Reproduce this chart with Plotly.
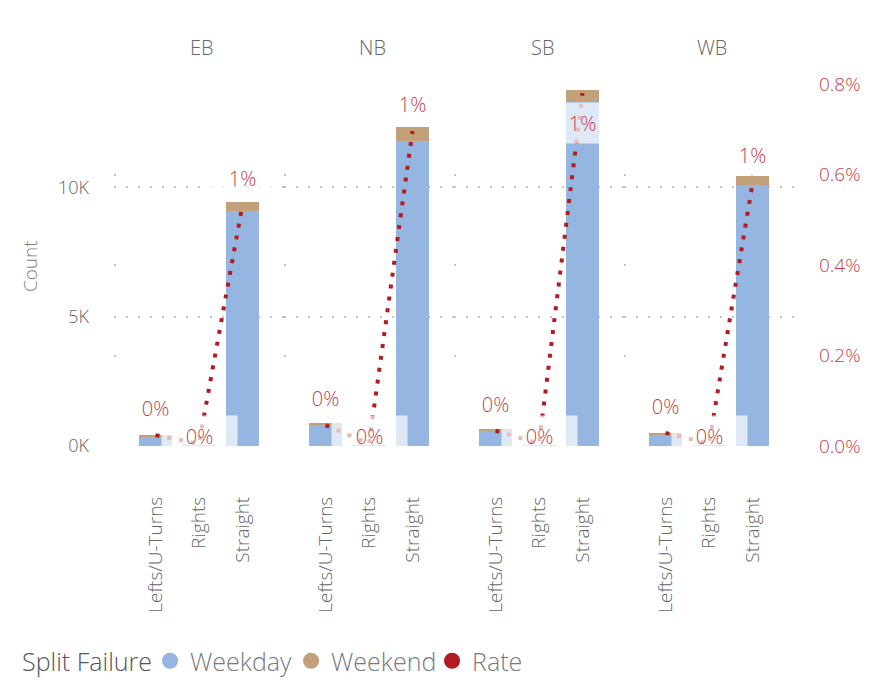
import plotly.graph_objects as go
from plotly.subplots import make_subplots

# ---------------- data ----------------
directions = ["EB", "NB", "SB", "WB"]
movements = ["Lefts/U-Turns", "Rights", "Straight"]

weekday_EB = [386, 25, 9070]
weekday_NB = [820, 20, 11780]
weekday_SB = [580, 20, 13300]
weekday_WB = [460, 20, 10080]

weekend_EB = [40, 2, 350]
weekend_NB = [40, 2, 540]
weekend_SB = [40, 2, 480]
weekend_WB = [40, 2, 380]

rate_EB = [0.00024, 0.00005, 0.00533]
rate_NB = [0.00046, 0.00005, 0.00696]
rate_SB = [0.00034, 0.00005, 0.00780]
rate_WB = [0.00029, 0.00005, 0.00580]

count_ticks = [0, 5000, 10000]
count_tick_text = ["0K", "5K", "10K"]
rate_ticks = [0, 0.002, 0.004, 0.006, 0.008]

weekday = [weekday_EB, weekday_NB, weekday_SB, weekday_WB]
weekend = [weekend_EB, weekend_NB, weekend_SB, weekend_WB]
rates = [rate_EB, rate_NB, rate_SB, rate_WB]

# ---------------- style ----------------
FONT = "Open Sans, Lato, sans-serif"
W = 300
BLUE = "#95B6E0"
TAN = "#C2A07A"
RED = "#B31B22"
LABEL_RED = "#C4404A"
GRAY = "#666666"
GRID = "#C4C4C4"

def f(size, color):
    return dict(family=FONT, size=size, color=color, weight=W)

# label vertical offsets (px) per facet / movement
label_shift = [[27, 8, 27], [27, 8, 27], [27, 8, -30], [27, 8, 29]]

fig = make_subplots(rows=1, cols=4, horizontal_spacing=0,
                    specs=[[{"secondary_y": True}] * 4])

annotations = []
for i, d in enumerate(directions):
    c = i + 1
    fig.add_trace(go.Bar(x=movements, y=weekday[i], marker_color=BLUE,
                         marker_line_width=0, showlegend=False, name="Weekday"),
                  row=1, col=c, secondary_y=False)
    fig.add_trace(go.Bar(x=movements, y=weekend[i], marker_color=TAN,
                         marker_line_width=0, showlegend=False, name="Weekend"),
                  row=1, col=c, secondary_y=False)
    fig.add_trace(go.Scatter(x=movements, y=rates[i], mode="lines",
                             line=dict(color=RED, width=4, dash="4px,8px"),
                             showlegend=False, name="Rate"),
                  row=1, col=c, secondary_y=True)
    xref = fig.data[-1].xaxis
    yref = fig.data[-1].yaxis
    for j, m in enumerate(movements):
        annotations.append(dict(
            x=m, y=rates[i][j], xref=xref, yref=yref,
            text=f"{rates[i][j]:.0%}", showarrow=False,
            xanchor="center", yanchor="middle", yshift=label_shift[i][j],
            font=f(20, LABEL_RED),
            bgcolor="rgba(255,255,255,0.7)", width=73, height=38))
    # facet title
    annotations.append(dict(
        x=(i + 0.5) / 4, y=1.102, xref="paper", yref="paper",
        text=d, showarrow=False, xanchor="center", yanchor="middle",
        xshift=3, font=f(20, GRAY)))

# y-axis title
annotations.append(dict(x=-0.1235, y=0.497, xref="paper", yref="paper",
                        text="Count", textangle=-90, showarrow=False,
                        xanchor="center", yanchor="middle",
                        font=f(19, "#808080")))

# legend title
annotations.append(dict(x=-0.1383, y=-0.594, xref="paper", yref="paper",
                        text="Split Failure", showarrow=False,
                        xanchor="left", yanchor="middle",
                        font=f(25, "#555555")))

# legend dummies
for name, col in [("Weekday", BLUE), ("Weekend", TAN), ("Rate", RED)]:
    fig.add_trace(go.Scatter(x=[None], y=[None], mode="markers", name=name,
                             marker=dict(size=17, color=col, symbol="circle"),
                             showlegend=True, legendgroup=name,
                             legendwidth=96))

for c in range(1, 5):
    fig.update_xaxes(domain=[(c - 1) / 4, c / 4], row=1, col=c)

fig.update_xaxes(range=[-0.954, 2.954], tickangle=-90, showgrid=False,
                 zeroline=False, showline=False, ticks="", automargin=False,
                 ticklabelstandoff=46, tickfont=f(19, GRAY))

for c in range(1, 5):
    fig.update_yaxes(range=[0, 14000], tickvals=count_ticks,
                     ticktext=count_tick_text, showgrid=True,
                     gridcolor=GRID, gridwidth=1.5, griddash="2px,10px",
                     zeroline=False, showline=False, ticks="", automargin=False,
                     showticklabels=(c == 1), ticklabelstandoff=24,
                     tickfont=f(18, GRAY),
                     row=1, col=c, secondary_y=False)
    fig.update_yaxes(range=[0, 0.008], tickvals=rate_ticks, tickformat=".1%",
                     showgrid=True, gridcolor=GRID, gridwidth=1.5,
                     griddash="2px,125px", zeroline=False, showline=False,
                     ticks="", automargin=False,
                     showticklabels=(c == 4), ticklabelstandoff=24,
                     tickfont=f(19, LABEL_RED),
                     row=1, col=c, secondary_y=True)

fig.update_layout(
    width=880, height=680,
    margin=dict(l=106, r=94, t=76, b=242, pad=0, autoexpand=False),
    barmode="stack", bargap=0.22,
    plot_bgcolor="white", paper_bgcolor="white",
    font=f(16, GRAY),
    annotations=annotations,
    legend=dict(orientation="h", x=0.053, xanchor="left",
                y=-0.594, yanchor="middle",
                font=f(25, "#7A7A7A"),
                itemsizing="trace", tracegroupgap=0, itemwidth=30),
)

fig.write_html("out.html")
